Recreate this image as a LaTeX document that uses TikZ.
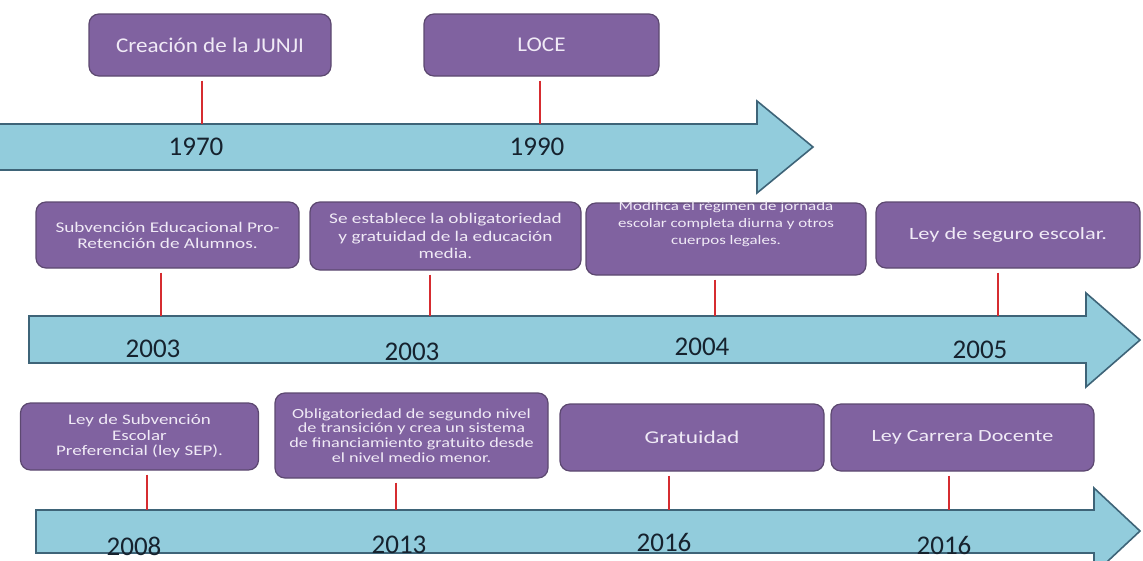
\documentclass[tikz,border=0pt]{standalone}
\usepackage{fontspec}
\setmainfont{Carlito}
\newfontfamily\topfont[FakeStretch=1.1]{Carlito}
\newfontfamily\boxfont[FakeStretch=1.3]{Carlito}
\definecolor{evtfill}{RGB}{128,98,160}
\definecolor{evtline}{RGB}{92,72,112}
\definecolor{axisfill}{RGB}{146,204,220}
\definecolor{axisline}{RGB}{62,100,120}
\definecolor{tickred}{RGB}{214,44,48}
\definecolor{yeartext}{RGB}{22,34,46}
\definecolor{evttext}{RGB}{240,234,246}
\begin{document}
\begin{tikzpicture} [x = 1pt, y = -1pt,
	evt/.style = {draw = evtline, line width = 1.2pt, fill = evtfill, rounded corners = 10pt, text = evttext, align = center, inner sep = 0pt},
	axis/.style = {draw = axisline, line width = 1.6pt, fill = axisfill},
	tick/.style = {draw = tickred, line width = 2.4pt, shorten <= 4pt},
	year/.style = {text = yeartext, font = \fontsize{27}{30}\selectfont, inner sep = 0pt}]
	\useasboundingbox (0,0) rectangle (1143,560);
	\clip (0,0) rectangle (1143,560);
	% first line: 1970 - 1990
	\draw [axis] (-5,124) -- (757,124) -- (757,101) -- (813,147) -- (757,193) -- (757,170) -- (-5,170) -- cycle;
	\node [evt, minimum width = 242pt, minimum height = 62pt, font = \topfont\fontsize{21}{24}\selectfont] (junji) at (210,45) {Creación de la JUNJI};
	\node [evt, minimum width = 235pt, minimum height = 62pt, font = \topfont\fontsize{21}{24}\selectfont] (loce) at (541.5,45) {LOCE};
	\coordinate (t1970) at (202,124);
	\coordinate (t1990) at (540,124);
	\draw [tick] (junji.south -| t1970) -- (t1970);
	\draw [tick] (loce.south -| t1990) -- (t1990);
	\node [year] (y1970) at (196,147) {1970};
	\node [year] (y1990) at (537,147) {1990};
	% second line: 2003 - 2005
	\draw [axis] (29,316) -- (1086,316) -- (1086,293) -- (1140,340) -- (1086,387) -- (1086,363) -- (29,363) -- cycle;
	\node [evt, minimum width = 263pt, minimum height = 66pt, font = \boxfont\fontsize{14.8}{16}\selectfont] (proret) at (167.5,235) {Subvención Educacional Pro-\\Retención de Alumnos.};
	\node [evt, minimum width = 271pt, minimum height = 68pt, font = \boxfont\fontsize{14.8}{17.5}\selectfont] (oblig) at (445.5,236) {Se establece la obligatoriedad\\y gratuidad de la educación\\media.};
	\node [evt, minimum width = 280pt, minimum height = 72pt] (jornada) at (726,239) {};
	\node [text = evttext, align = center, inner sep = 0pt, font = \boxfont\fontsize{13}{17}\selectfont] (jornadatxt) at (726,224) {Modifica el régimen de jornada\\escolar completa diurna y otros\\cuerpos legales.};
	\node [evt, minimum width = 264pt, minimum height = 66pt, font = \boxfont\fontsize{17.2}{20}\selectfont] (seguro) at (1008,235) {Ley de seguro escolar.};
	\coordinate (t2003a) at (161,316);
	\coordinate (t2003b) at (430,316);
	\coordinate (t2004) at (715,316);
	\coordinate (t2005) at (998,316);
	\draw [tick] (proret.south -| t2003a) -- (t2003a);
	\draw [tick] (oblig.south -| t2003b) -- (t2003b);
	\draw [tick] (jornada.south -| t2004) -- (t2004);
	\draw [tick] (seguro.south -| t2005) -- (t2005);
	\node [year] (y2003a) at (153,349) {2003};
	\node [year] (y2003b) at (412,352) {2003};
	\node [year] (y2004) at (702,347) {2004};
	\node [year] (y2005) at (980,350) {2005};
	% third line: 2008 - 2016
	\draw [axis] (36,510) -- (1094,510) -- (1094,488) -- (1140,531) -- (1094,574) -- (1094,553) -- (36,553) -- cycle;
	\node [evt, minimum width = 238pt, minimum height = 67pt, font = \boxfont\fontsize{14.6}{15.5}\selectfont] (sep) at (139.5,436.5) {Ley de Subvención\\Escolar\\Preferencial (ley SEP).};
	\node [evt, minimum width = 273pt, minimum height = 85pt, font = \boxfont\fontsize{14}{14.8}\selectfont] (trans) at (411.5,435.5) {Obligatoriedad de segundo nivel\\de transición y crea un sistema\\de financiamiento gratuito desde\\el nivel medio menor.};
	\node [evt, minimum width = 264pt, minimum height = 67pt, font = \boxfont\fontsize{18}{20}\selectfont] (grat) at (692,437.5) {Gratuidad};
	\node [evt, minimum width = 263pt, minimum height = 67pt, font = \boxfont\fontsize{17}{20}\selectfont] (docente) at (962.5,437.5) {Ley Carrera Docente};
	\coordinate (t2008) at (147,510);
	\coordinate (t2013) at (396,510);
	\coordinate (t2016a) at (669,510);
	\coordinate (t2016b) at (949,510);
	\draw [tick] (sep.south -| t2008) -- (t2008);
	\draw [tick] (trans.south -| t2013) -- (t2013);
	\draw [tick] (grat.south -| t2016a) -- (t2016a);
	\draw [tick] (docente.south -| t2016b) -- (t2016b);
	\node [year] (y2008) at (134,546) {2008};
	\node [year] (y2013) at (399,545) {2013};
	\node [year] (y2016a) at (664,542) {2016};
	\node [year] (y2016b) at (944,545) {2016};
\end{tikzpicture}
\end{document}
